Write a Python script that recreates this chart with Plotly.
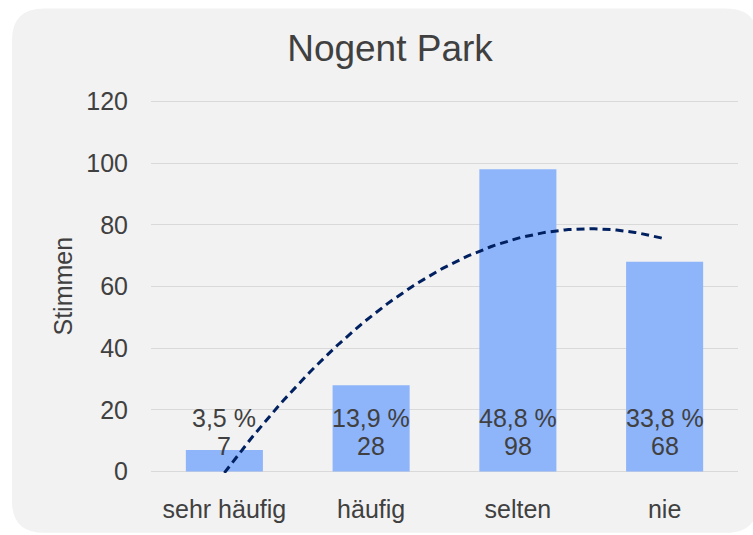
import numpy as np
import plotly.graph_objects as go

categories = ["sehr häufig", "häufig", "selten", "nie"]
counts = [7, 28, 98, 68]
percent_labels = ["3,5 %", "13,9 %", "48,8 %", "33,8 %"]
y_ticks = [0, 20, 40, 60, 80, 100, 120]

W, H = 753, 535
# plot area: value 0 at y=476 px, value 120 at y=102 px, x from 151 to 738 px
Y0_PX, Y120_PX = 476, 102
PAD = 0.5  # padding in data units so edge gridlines are drawn
unit = (Y0_PX - Y120_PX) / 120.0
ML, MR = 151, 15
MT = Y120_PX - PAD * unit
MB = H - (Y0_PX + PAD * unit)
PW, PH = W - ML - MR, H - MT - MB

def px_x(p):
    return (p - ML) / PW

def px_y(p):
    return (H - MB - p) / PH

FONT = "Liberation Sans, Arial, sans-serif"
TXT = "#404040"

xpos = list(range(len(categories)))

fig = go.Figure()
fig.add_trace(go.Bar(
    x=xpos, y=counts, width=0.525,
    marker=dict(color="#8EB4FA", line=dict(width=0)),
    hoverinfo="skip", showlegend=False,
))

# polynomial (order 2) trendline as in the original chart
coef = np.polyfit(xpos, counts, 2)
tx = np.linspace(xpos[0], xpos[-1], 120)
ty = np.polyval(coef, tx)
fig.add_trace(go.Scatter(
    x=tx, y=ty, mode="lines",
    line=dict(color="#002060", width=3, dash="8px,5px"),
    hoverinfo="skip", showlegend=False,
))

# data labels (inside base)
for i, (c, p) in enumerate(zip(counts, percent_labels)):
    fig.add_annotation(x=i, y=0, text=str(c), showarrow=False,
                       yanchor="middle", yshift=25,
                       font=dict(family=FONT, size=25, color=TXT))
    fig.add_annotation(x=i, y=0, text=p, showarrow=False,
                       yanchor="middle", yshift=53,
                       font=dict(family=FONT, size=25, color=TXT))

# y axis title
fig.add_annotation(xref="paper", yref="paper", x=px_x(62), y=px_y(289),
                   text="Stimmen", textangle=-90, showarrow=False,
                   xanchor="center", yanchor="middle",
                   font=dict(family=FONT, size=25, color=TXT))

# rounded background
x0, y0, x1, y1, r = 12, 8, 758, 538, 32
path = (
    f"M {px_x(x0 + r)} {px_y(y0)} "
    f"L {px_x(x1 - r)} {px_y(y0)} "
    f"Q {px_x(x1)} {px_y(y0)} {px_x(x1)} {px_y(y0 + r)} "
    f"L {px_x(x1)} {px_y(y1 - r)} "
    f"Q {px_x(x1)} {px_y(y1)} {px_x(x1 - r)} {px_y(y1)} "
    f"L {px_x(x0 + r)} {px_y(y1)} "
    f"Q {px_x(x0)} {px_y(y1)} {px_x(x0)} {px_y(y1 - r)} "
    f"L {px_x(x0)} {px_y(y0 + r)} "
    f"Q {px_x(x0)} {px_y(y0)} {px_x(x0 + r)} {px_y(y0)} Z"
)
fig.add_shape(type="path", path=path, xref="paper", yref="paper",
              fillcolor="#F2F2F2", line=dict(width=0), layer="below")

fig.update_layout(
    width=W, height=H,
    margin=dict(l=ML, r=MR, t=MT, b=MB, pad=0),
    paper_bgcolor="white", plot_bgcolor="rgba(0,0,0,0)",
    title=dict(text="Nogent Park", x=390 / W, xanchor="center",
               y=1 - 48 / H, yanchor="middle", yref="container",
               font=dict(family=FONT, size=37, color=TXT)),
    bargap=0.475,
    font=dict(family=FONT, size=25, color=TXT),
)
fig.update_xaxes(
    tickmode="array", tickvals=xpos, ticktext=categories,
    range=[-0.5, len(categories) - 0.5],
    showgrid=False, zeroline=False, showline=False,
    ticks="outside", ticklen=14, tickcolor="rgba(0,0,0,0)",
    tickfont=dict(family=FONT, size=25, color=TXT),
    fixedrange=True,
)
fig.update_yaxes(
    tickmode="array", tickvals=y_ticks,
    range=[-PAD, 120 + PAD],
    showgrid=True, gridcolor="#D9D9D9", gridwidth=1.3,
    zeroline=False, showline=False,
    ticks="outside", ticklen=17, tickcolor="rgba(0,0,0,0)",
    tickfont=dict(family=FONT, size=25, color=TXT),
    fixedrange=True,
)

post = (
    "document.documentElement.style.margin='0';"
    "document.documentElement.style.overflow='hidden';"
    "document.body.style.margin='0';"
    "document.body.style.overflow='hidden';"
    "var gd=document.getElementById('{plot_id}');"
    "var wrap=gd.parentElement;"
    "wrap.style.position='fixed';wrap.style.left='0';wrap.style.top='0';"
)
fig.write_html("out.html", config={"displayModeBar": False}, post_script=post)
